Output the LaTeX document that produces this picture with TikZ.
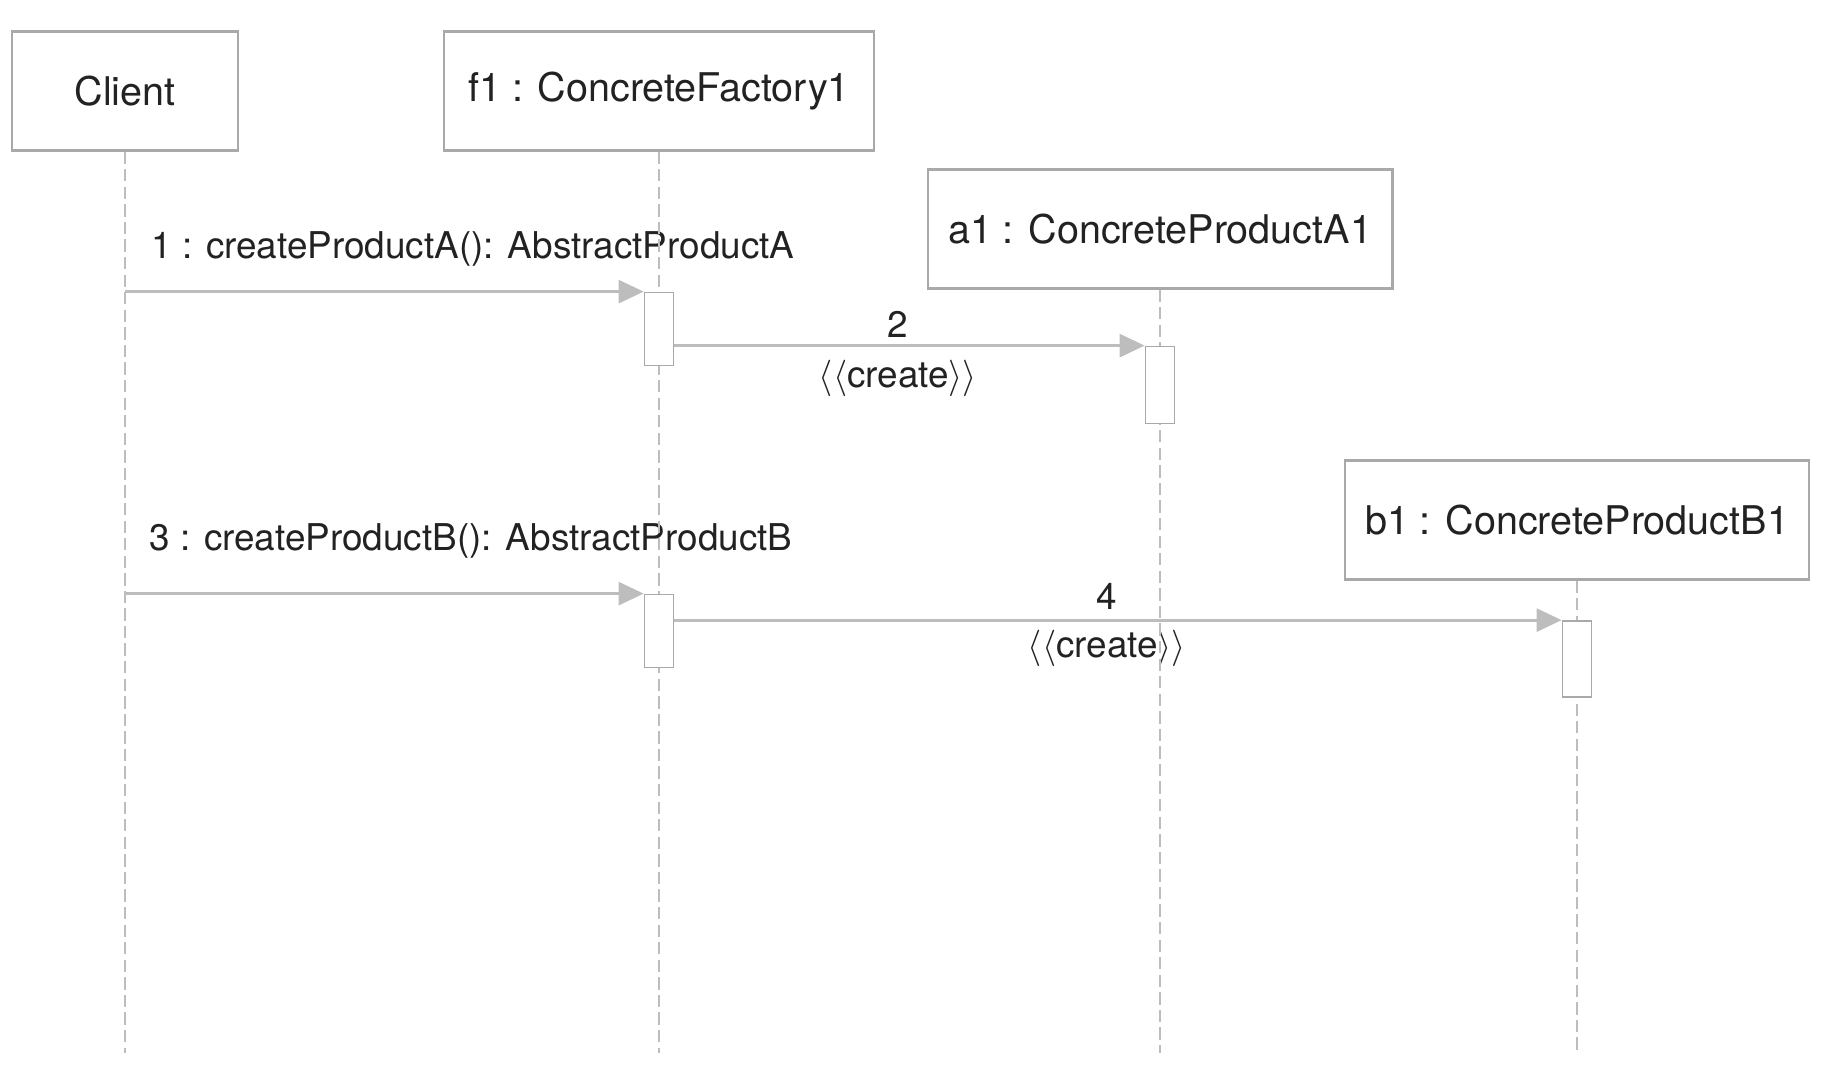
\documentclass[tikz,border=0pt]{standalone}
\usepackage{fontspec}
\setmainfont{TeX Gyre Heros}
\usetikzlibrary{arrows.meta}

\definecolor{boxgray}{HTML}{A9A9A9}
\definecolor{linegray}{HTML}{BDBDBD}
\definecolor{textgray}{HTML}{222222}

\tikzset{
    object/.style={draw=boxgray, line width=1.2pt, fill=white, text=textgray,
        minimum height=2.38cm, inner sep=0pt, font=\fontsize{22.5}{27}\selectfont},
    activation/.style={draw=boxgray, line width=1pt, fill=white,
        minimum width=0.58cm, inner sep=0pt},
    lifeline/.style={draw=linegray, line width=0.8pt, dash pattern=on 7pt off 3pt},
    message/.style={draw=linegray, line width=1.6pt,
        -{Triangle[length=0.5cm, width=0.46cm, fill=linegray]}},
    msglabel/.style={text=textgray, inner sep=0pt, font=\fontsize{21}{25}\selectfont},
}

\begin{document}
\begin{tikzpicture}[x=0.02cm, y=-0.02cm]
    \useasboundingbox (0,0) rectangle (1828,1074);

    % Message labels
    \node[msglabel, anchor=west] (lbl1) at (151,249) {1 : createProductA(): AbstractProductA};
    \node[msglabel] (lbl2) at (898,324) {2};
    \node[msglabel] (create2) at (898,378) {$\langle\langle$create$\rangle\rangle$};
    \node[msglabel, anchor=west] (lbl3) at (149,541) {3 : createProductB(): AbstractProductB};
    \node[msglabel] (lbl4) at (1107,596) {4};
    \node[msglabel] (create4) at (1107,648) {$\langle\langle$create$\rangle\rangle$};

    % Objects
    \node[object, minimum width=4.52cm] (client) at (125,91) {Client};
    \node[object, minimum width=8.6cm] (factory) at (659,91) {f1 : ConcreteFactory1};
    \node[object, minimum width=9.3cm] (prodA) at (1160,229) {a1 : ConcreteProductA1};
    \node[object, minimum width=9.28cm] (prodB) at (1577,520) {b1 : ConcreteProductB1};

    % Lifelines
    \coordinate (clientEnd) at (125,1053);
    \coordinate (factoryEnd) at (659,1053);
    \coordinate (prodAEnd) at (1160,1053);
    \coordinate (prodBEnd) at (1577,1053);
    \draw[lifeline] (client.south) -- (clientEnd);
    \draw[lifeline] (factory.south) -- (factoryEnd);
    \draw[lifeline] (prodA.south) -- (prodAEnd);
    \draw[lifeline] (prodB.south) -- (prodBEnd);

    % Activations
    \node[activation, minimum height=1.46cm] (actF1) at (659,329) {};
    \node[activation, minimum height=1.54cm] (actA1) at (1160,385) {};
    \node[activation, minimum height=1.46cm] (actF2) at (659,631) {};
    \node[activation, minimum height=1.52cm] (actB1) at (1577,659) {};

    % Messages
    \draw[message] (client.south |- actF1.north) -- (actF1.north west);
    \draw[message] (actF1.east |- actA1.north) -- (actA1.north west);
    \draw[message] (client.south |- actF2.north) -- (actF2.north west);
    \draw[message] (actF2.east |- actB1.north) -- (actB1.north west);
\end{tikzpicture}
\end{document}
